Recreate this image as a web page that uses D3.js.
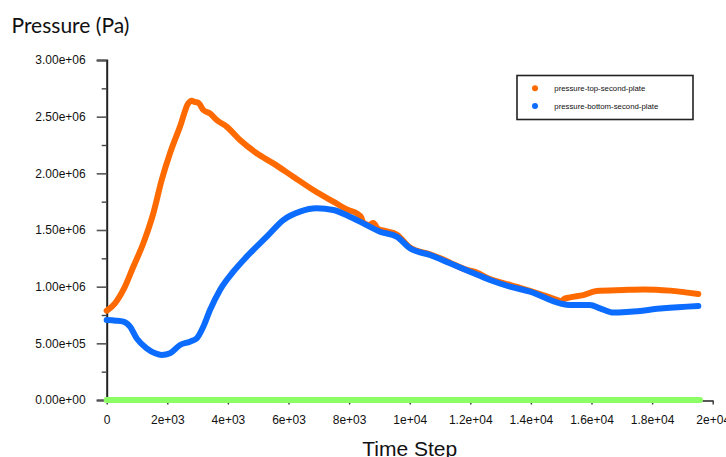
<!DOCTYPE html>
<html>
<head>
<meta charset="utf-8">
<script src="https://cdn.jsdelivr.net/npm/d3@7"></script>
<style>
  html, body { margin: 0; padding: 0; background: #fff; }
  svg { display: block; }
</style>
</head>
<body>
<svg id="chart" width="726" height="457"></svg>
<script>
// Monitored pressures on the second plate over the solver time steps
const timeTop = [0, 274, 548, 878, 1208, 1538, 1815, 2089, 2419, 2693, 2805, 2900, 3023, 3188, 3409, 3630, 3960, 4399, 4950, 5498, 6158, 6818, 7479, 7974, 8251, 8400, 8469, 8650, 8799, 8950, 9200, 9571, 10010, 10670, 11109, 11330, 11990, 12099, 12650, 13089, 13640, 14300, 14851, 15000, 15100, 15290, 15730, 16171, 17050, 17710, 18590, 19525];
const pressureTop = [788000, 853000, 971000, 1176000, 1383000, 1647000, 1941000, 2177000, 2412000, 2618000, 2641000, 2630000, 2623000, 2559000, 2529000, 2471000, 2412000, 2294000, 2177000, 2088000, 1970000, 1853000, 1750000, 1676000, 1647000, 1610000, 1565000, 1545000, 1562000, 1510000, 1490000, 1460000, 1345000, 1285000, 1240000, 1212000, 1140000, 1135000, 1066000, 1032000, 990000, 935000, 885000, 870000, 892000, 905000, 926000, 962000, 971000, 976000, 965000, 935000];

const timeBottom = [0, 300, 548, 769, 990, 1320, 1600, 1815, 2089, 2419, 2749, 2970, 3188, 3409, 3739, 4178, 4620, 5281, 5828, 6380, 6931, 7479, 7974, 8469, 9020, 9571, 10010, 10670, 11330, 11990, 12650, 13310, 13970, 14960, 15290, 15950, 16280, 16719, 17270, 18370, 19525];
const pressureBottom = [706000, 700000, 691000, 647000, 544000, 456000, 412000, 397000, 412000, 485000, 515000, 544000, 647000, 794000, 971000, 1132000, 1265000, 1441000, 1588000, 1662000, 1691000, 1676000, 1624000, 1559000, 1485000, 1441000, 1338000, 1279000, 1206000, 1132000, 1059000, 1000000, 956000, 853000, 838000, 838000, 809000, 771000, 779000, 809000, 829000];

const timeBase = [0, 19580];
const pressureBase = [0, 0];

const seriesNames = ["pressure-top-second-plate", "pressure-bottom-second-plate"];
const xTicks = [0, 2000, 4000, 6000, 8000, 10000, 12000, 14000, 16000, 18000, 20000];
const xTickLabels = ["0", "2e+03", "4e+03", "6e+03", "8e+03", "1e+04", "1.2e+04", "1.4e+04", "1.6e+04", "1.8e+04", "2e+04"];
const yTicks = [0, 500000, 1000000, 1500000, 2000000, 2500000, 3000000];
const yTickLabels = ["0.00e+00", "5.00e+05", "1.00e+06", "1.50e+06", "2.00e+06", "2.50e+06", "3.00e+06"];
const yMinorTicks = [250000, 750000, 1250000, 1750000, 2250000, 2750000];

const colors = { top: "#ff6a00", bottom: "#0b6cff", base: "#8cff66" };

const svg = d3.select("#chart");
const margin = { left: 106.7, right: 13.3, top: 60, bottom: 57 };
const W = 726, H = 457;

const x = d3.scaleLinear().domain([0, 20000]).range([margin.left, W - margin.right]);
const y = d3.scaleLinear().domain([0, 3000000]).range([H - margin.bottom, margin.top]);

// y axis: major labelled ticks plus unlabelled minor ticks
const yAxis = d3.axisLeft(y).tickValues(yTicks)
  .tickFormat((d, i) => yTickLabels[i]).tickSize(10).tickPadding(11);
const gy = svg.append("g").attr("transform", `translate(${margin.left},0)`).call(yAxis);
gy.select(".domain").attr("stroke", "#222").attr("stroke-width", 2);
gy.selectAll(".tick line").attr("stroke", "#555").attr("stroke-width", 1.6);
gy.selectAll(".tick text").attr("font-family", "Liberation Sans, Arial, sans-serif")
  .attr("font-size", 12).attr("fill", "#111");

const yMinor = d3.axisLeft(y).tickValues(yMinorTicks).tickFormat("").tickSize(5);
const gym = svg.append("g").attr("transform", `translate(${margin.left},0)`).call(yMinor);
gym.select(".domain").remove();
gym.selectAll(".tick line").attr("stroke", "#444").attr("stroke-width", 1.4);

// x axis
const xAxis = d3.axisBottom(x).tickValues(xTicks)
  .tickFormat((d, i) => xTickLabels[i]).tickSize(4).tickSizeOuter(0).tickPadding(11);
const gx = svg.append("g").attr("transform", `translate(0,${y(0) + 0.5})`).call(xAxis);
gx.select(".domain").attr("stroke", "#222").attr("stroke-width", 1.5);
gx.selectAll(".tick line").attr("stroke", "#333").attr("stroke-width", 1.4);
gx.selectAll(".tick text").attr("font-family", "Liberation Sans, Arial, sans-serif")
  .attr("font-size", 12).attr("fill", "#111");

// curves
function drawSeries(times, values, color, width, curve) {
  const pts = times.map((t, i) => [t, values[i]]);
  const line = d3.line().x(d => x(d[0])).y(d => y(d[1])).curve(curve);
  svg.append("path").datum(pts)
    .attr("d", line)
    .attr("fill", "none")
    .attr("stroke", color)
    .attr("stroke-width", width)
    .attr("stroke-linecap", "round")
    .attr("stroke-linejoin", "round");
}
drawSeries(timeBase, pressureBase, colors.base, 6, d3.curveLinear);
drawSeries(timeTop, pressureTop, colors.top, 6, d3.curveMonotoneX);
drawSeries(timeBottom, pressureBottom, colors.bottom, 6, d3.curveMonotoneX);

// titles
svg.append("text").attr("x", 11.5).attr("y", 33)
  .attr("font-family", "Lato, sans-serif").attr("font-size", 21).attr("fill", "#111")
  .text("Pressure (Pa)");
svg.append("text").attr("x", (x(0) + x(20000)) / 2).attr("y", 456)
  .attr("text-anchor", "middle")
  .attr("font-family", "Liberation Sans, Arial, sans-serif").attr("font-size", 21).attr("fill", "#111")
  .text("Time Step");

// legend
const lg = svg.append("g");
lg.append("rect").attr("x", 517).attr("y", 75.5).attr("width", 176).attr("height", 44)
  .attr("fill", "#fff").attr("stroke", "#222").attr("stroke-width", 1.6);
const legendColors = [colors.top, colors.bottom];
seriesNames.forEach((name, i) => {
  const cy = 88.3 + i * 17.7;
  lg.append("circle").attr("cx", 535).attr("cy", cy).attr("r", 3).attr("fill", legendColors[i]);
  lg.append("text").attr("x", 554.3).attr("y", cy + 2.6)
    .attr("font-family", "Liberation Sans, Arial, sans-serif").attr("font-size", 7.8).attr("fill", "#111")
    .text(name);
});
</script>
</body>
</html>
